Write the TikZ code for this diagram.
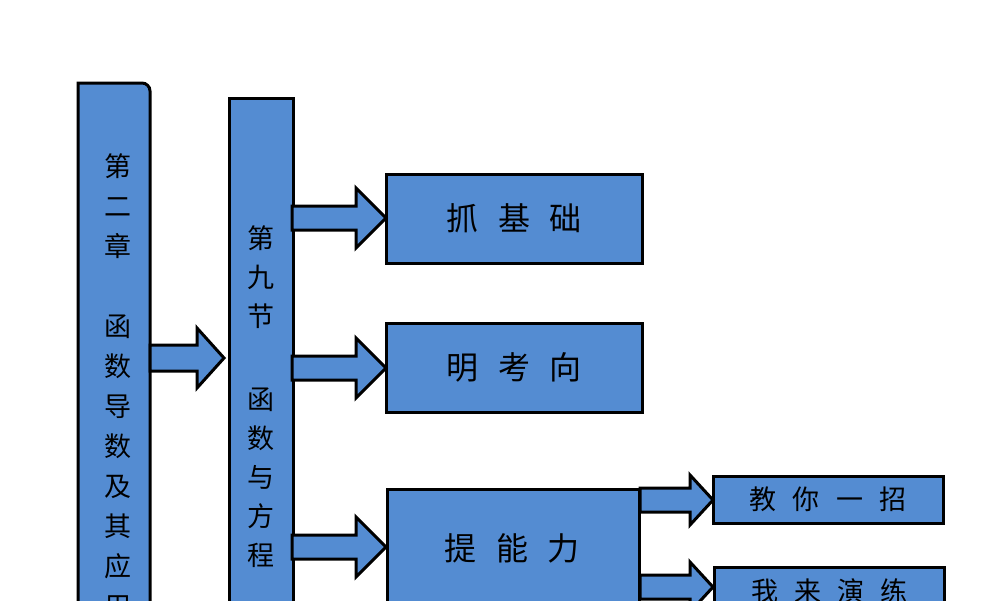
\documentclass[tikz,border=0pt]{standalone}
\usepackage{fontspec}
\newfontfamily\cjk{Noto Sans CJK SC}[Scale=1]
\definecolor{bfill}{RGB}{84,140,210}
\tikzset{
 box/.style={draw=black,line width=3pt,fill=bfill,inner sep=0pt,font=\cjk},
 barrow/.style={draw=black,line width=3pt,fill=bfill,line join=miter},
}
\newcommand\blockarrow[6]{% x0 x1 xtip y halfbody halfhead
 \filldraw[barrow] (#1,#4-#5) -- (#2,#4-#5) -- (#2,#4-#6) -- (#3,#4) -- (#2,#4+#6) -- (#2,#4+#5) -- (#1,#4+#5) -- cycle;}
\begin{document}
\begin{tikzpicture}[x=1pt,y=-1pt]
\useasboundingbox (0,0) rectangle (1000,600);
\begin{scope}
\clip (0,0) rectangle (1000,600);
% left column
\filldraw[barrow] (78,640) -- (78,83) -- (142,83) to[out=0,in=90] (150,91) -- (150,640) -- cycle;
\node[font=\cjk\fontsize{27}{40}\selectfont,align=center,anchor=north] (ch) at (118,150)
 {第\\二\\章\\[40pt]函\\数\\导\\数\\及\\其\\应\\用};
% middle column
\node[box,minimum width=64pt,minimum height=560pt,anchor=north west] (mid) at (228,97) {};
\node[font=\cjk\fontsize{27}{39}\selectfont,align=center,anchor=north] (sec) at (261,222)
 {第\\九\\节\\[44pt]函\\数\\与\\方\\程};
\blockarrow{150}{197}{224}{358}{13}{30}
% boxes
\node[box,minimum width=256pt,minimum height=89pt,font=\cjk\fontsize{32}{38}\selectfont] (b1) at (514,218.5) {抓\hspace{0.6em}基\hspace{0.6em}础};
\node[box,minimum width=256pt,minimum height=89pt,font=\cjk\fontsize{32}{38}\selectfont] (b2) at (514,367.5) {明\hspace{0.6em}考\hspace{0.6em}向};
\node[box,minimum width=252pt,minimum height=150pt,anchor=north west,font=\cjk\fontsize{32}{38}\selectfont] (b3) at (386,488) {};
\node[font=\cjk\fontsize{32}{38}\selectfont] (b3t) at (512,548) {提\hspace{0.6em}能\hspace{0.6em}力};
\blockarrow{292}{356}{386}{218}{12}{30}
\blockarrow{292}{356}{386}{368}{12}{30}
\blockarrow{292}{356}{386}{547}{12}{30}
% sub boxes
\node[box,minimum width=230pt,minimum height=47pt,font=\cjk\fontsize{27}{32}\selectfont] (s1) at (828,499.5) {教\hspace{0.6em}你\hspace{0.6em}一\hspace{0.6em}招};
\node[box,minimum width=230pt,minimum height=47pt,anchor=north west,font=\cjk\fontsize{27}{32}\selectfont] (s2) at (713,566) {我\hspace{0.6em}来\hspace{0.6em}演\hspace{0.6em}练};
\blockarrow{640}{690}{713}{500}{12}{25}
\blockarrow{640}{690}{713}{587}{12}{25}
\end{scope}
\end{tikzpicture}
\end{document}
